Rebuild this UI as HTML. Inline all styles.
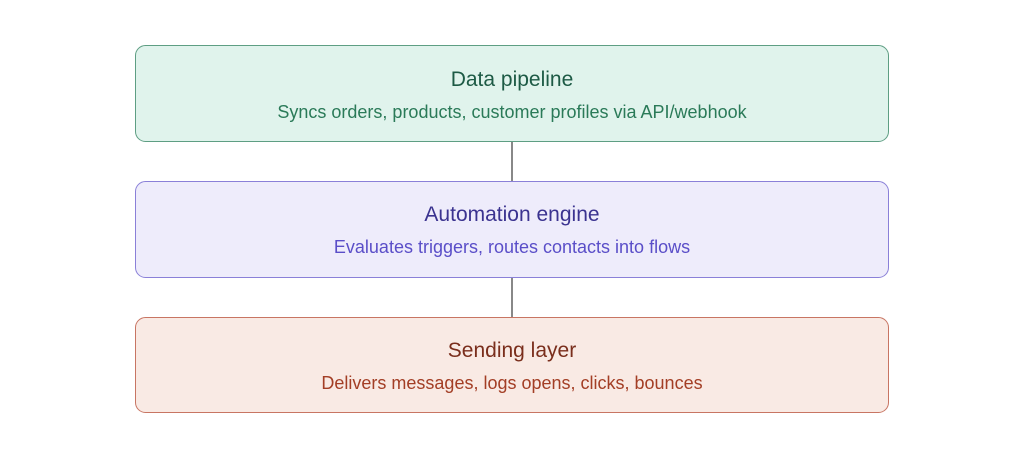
<!DOCTYPE html>
<html><head><meta charset="utf-8"><style>body{margin:0;background:#fff}</style></head><body>
<svg width="1024" height="452" xmlns="http://www.w3.org/2000/svg" font-family="Liberation Sans, sans-serif" text-anchor="middle">
<rect width="1024" height="452" fill="#fff"/>
<line x1="512" y1="141" x2="512" y2="181" stroke="#888" stroke-width="2"/>
<line x1="512" y1="277" x2="512" y2="317" stroke="#888" stroke-width="2"/>
<rect x="135.5" y="45.5" width="753" height="96" rx="10" fill="#e0f3ec" stroke="#5e9e83"/>
<text x="512" y="86" font-size="21" fill="#1d5a45">Data pipeline</text>
<text x="512" y="118" font-size="18" fill="#2a7a58">Syncs orders, products, customer profiles via API/webhook</text>
<rect x="135.5" y="181.5" width="753" height="96" rx="10" fill="#eeecfb" stroke="#8a80d8"/>
<text x="512" y="221" font-size="21" fill="#3b3390">Automation engine</text>
<text x="512" y="253" font-size="18" fill="#5a4ec8">Evaluates triggers, routes contacts into flows</text>
<rect x="135.5" y="317.5" width="753" height="95" rx="10" fill="#f9eae4" stroke="#c87563"/>
<text x="512" y="357" font-size="21" fill="#7a2e1c">Sending layer</text>
<text x="512" y="389" font-size="18" fill="#a33e25">Delivers messages, logs opens, clicks, bounces</text>
</svg>
</body></html>
